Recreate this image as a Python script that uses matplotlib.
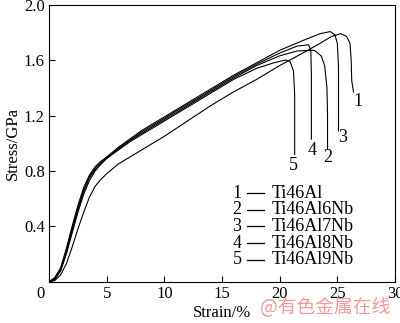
import matplotlib
matplotlib.use('Agg')
from matplotlib import pyplot as plt

# strain (%) / stress (GPa) for each alloy
strain_1 = [0, 0.5, 1, 1.5, 2, 2.5, 3, 3.5, 4, 4.5, 5, 6, 7, 8, 10, 12, 14, 16, 18, 20, 22, 23.5, 24.5, 25.3, 25.8, 26.1, 26.2, 26.25, 26.4]
stress_1 = [0, 0.01, 0.05, 0.13, 0.25, 0.38, 0.5, 0.61, 0.69, 0.74, 0.78, 0.85, 0.9, 0.95, 1.05, 1.16, 1.27, 1.37, 1.46, 1.56, 1.65, 1.72, 1.77, 1.79, 1.77, 1.72, 1.6, 1.45, 1.37]

strain_2 = [0, 0.5, 1, 1.5, 2, 2.5, 3, 3.5, 4, 4.5, 5, 6, 7, 8, 10, 12, 14, 16, 18, 20, 21.5, 23.0, 23.6, 23.9, 24.1, 24.15, 24.15]
stress_2 = [0, 0.02, 0.08, 0.2, 0.35, 0.5, 0.63, 0.73, 0.8, 0.85, 0.89, 0.96, 1.02, 1.07, 1.17, 1.27, 1.37, 1.47, 1.56, 1.63, 1.665, 1.67, 1.63, 1.56, 1.4, 1.2, 0.96]

strain_3 = [0, 0.5, 1, 1.5, 2, 2.5, 3, 3.5, 4, 4.5, 5, 6, 7, 8, 10, 12, 14, 16, 18, 20, 22, 23.5, 24.4, 24.8, 25.0, 25.1, 25.1, 25.1]
stress_3 = [0, 0.03, 0.1, 0.24, 0.4, 0.55, 0.68, 0.77, 0.83, 0.87, 0.9, 0.97, 1.03, 1.09, 1.19, 1.29, 1.39, 1.49, 1.58, 1.67, 1.74, 1.79, 1.805, 1.78, 1.72, 1.55, 1.3, 1.09]

strain_4 = [0, 0.5, 1, 1.5, 2, 2.5, 3, 3.5, 4, 4.5, 5, 6, 7, 8, 10, 12, 14, 16, 18, 20, 21.5, 22.5, 22.7, 22.75, 22.75]
stress_4 = [0, 0.03, 0.09, 0.22, 0.38, 0.53, 0.66, 0.76, 0.82, 0.86, 0.9, 0.96, 1.02, 1.08, 1.18, 1.28, 1.38, 1.48, 1.57, 1.65, 1.70, 1.71, 1.67, 1.5, 1.03]

strain_5 = [0, 0.5, 1, 1.5, 2, 2.5, 3, 3.5, 4, 4.5, 5, 6, 7, 8, 10, 12, 14, 16, 18, 19.5, 20.5, 20.9, 21.2, 21.3, 21.3]
stress_5 = [0, 0.02, 0.08, 0.21, 0.37, 0.52, 0.65, 0.75, 0.81, 0.85, 0.89, 0.95, 1.01, 1.06, 1.16, 1.26, 1.36, 1.46, 1.54, 1.58, 1.6, 1.59, 1.52, 1.35, 0.92]

curve_labels = ['1', '2', '3', '4', '5']
alloys = ['Ti46Al', 'Ti46Al6Nb', 'Ti46Al7Nb', 'Ti46Al8Nb', 'Ti46Al9Nb']

x_ticks = [0, 5, 10, 15, 20, 25, 30]
y_ticks = [0.4, 0.8, 1.2, 1.6, 2.0]

plt.rcParams['font.family'] = ['Liberation Serif', 'DejaVu Serif']
plt.rcParams['font.size'] = 12

fig = plt.figure(figsize=(4, 3.23), dpi=100)
ax = fig.add_axes([0.1225, 0.127, 0.865, 0.859])

curves = [(strain_1, stress_1), (strain_2, stress_2), (strain_3, stress_3),
          (strain_4, stress_4), (strain_5, stress_5)]
for sx, sy in curves:
    ax.plot(sx, sy, color='black', linewidth=0.8)

# number each curve just below where it ends
label_pos = [(26.8, 1.30), (24.2, 0.90), (25.5, 1.04), (22.8, 0.95), (21.2, 0.84)]
for lab, (lx, ly) in zip(curve_labels, label_pos):
    ax.text(lx, ly, lab, ha='center', va='center', fontsize=13)

# key in the lower right
for i, (lab, name) in enumerate(zip(curve_labels, alloys)):
    yy = 0.64 - i * 0.12
    ax.text(16.3, yy, lab, ha='center', va='center', fontsize=13)
    ax.plot([17.2, 18.6], [yy, yy], color='black', linewidth=0.9)
    ax.text(19.3, yy, name, ha='left', va='center', fontsize=13)

ax.set_xlim(0, 30)
ax.set_ylim(0, 2.0)
ax.set_xticks(x_ticks)
ax.set_xticklabels([''] + [str(t) for t in x_ticks[1:]])
ax.set_yticks(y_ticks)
ax.set_yticklabels(['%.1f' % t for t in y_ticks])
ax.text(-0.4, -0.03, '0', ha='right', va='top', fontsize=12)
ax.tick_params(direction='in', length=4, width=0.8, pad=3)
for sp in ax.spines.values():
    sp.set_linewidth(0.8)

ax.set_xlabel('Strain/%', labelpad=2)
ax.set_ylabel('Stress/GPa', labelpad=2)

fig.text(0.975, 0.015, '@有色金属在线', ha='right', va='bottom', fontsize=13.5,
         color='#f09a9a', family=['Noto Sans CJK SC', 'DejaVu Sans'])

plt.savefig('out.png', dpi=100)
